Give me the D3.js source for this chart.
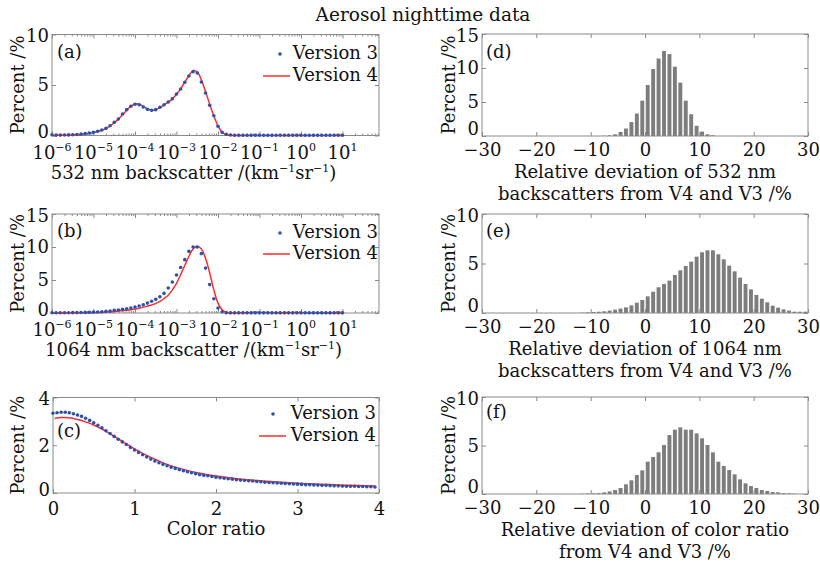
<!DOCTYPE html>
<html><head><meta charset="utf-8">
<script src="https://cdn.jsdelivr.net/npm/d3@7"></script>
<style>
body{margin:0;background:#fff}
svg{display:block}
text{font-family:"DejaVu Serif",serif;fill:#111}
</style>
</head><body><svg id="c" width="820" height="562"></svg>
<script>
// ---------- data ----------
const titleText = "Aerosol nighttime data";
const seriesNames = ["Version 3", "Version 4"];
const logTickExps = [-6,-5,-4,-3,-2,-1,0,1];
const aExp = [-6.0,-5.9,-5.8,-5.7,-5.6,-5.5,-5.4,-5.3,-5.2,-5.1,-5.0,-4.9,-4.8,-4.7,-4.6,-4.5,-4.4,-4.3,-4.2,-4.1,-4.0,-3.9,-3.8,-3.7,-3.6,-3.5,-3.4,-3.3,-3.2,-3.1,-3.0,-2.9,-2.8,-2.7,-2.6,-2.5,-2.4,-2.3,-2.2,-2.1,-2.0,-1.9,-1.8,-1.7,-1.6,-1.5,-1.4,-1.3,-1.2,-1.1,-1.0,-0.9,-0.8,-0.7,-0.6,-0.5,-0.4,-0.3,-0.2,-0.1,0.0,0.1,0.2,0.3,0.4,0.5,0.6,0.7,0.8,0.9,1.0];
const a532V3 = [0.08,0.04,0.04,0.05,0.06,0.08,0.10,0.14,0.19,0.25,0.31,0.41,0.54,0.71,0.97,1.30,1.63,2.13,2.56,2.89,3.09,3.05,2.82,2.59,2.49,2.56,2.79,3.05,3.32,3.64,4.11,4.60,5.27,5.89,6.32,6.19,5.30,4.21,2.99,1.96,0.91,0.31,0.12,0.05,
 0.03,0.03,0.02,0.02,0.02,0.02,0.02,0.02,0.02,0.02,0.02,0.02,0.02,0.02,0.02,0.02,0.02,0.02,0.02,0.02,0.02,0.02,0.02,0.02,0.02,0.02,0.02];
const a532V4 = [0.00,0.01,0.02,0.03,0.04,0.06,0.08,0.11,0.16,0.22,0.29,0.39,0.52,0.70,0.95,1.26,1.62,2.05,2.50,2.88,3.12,3.10,2.88,2.63,2.50,2.55,2.76,3.02,3.30,3.63,4.08,4.62,5.28,5.95,6.42,6.30,5.50,4.35,3.10,1.95,0.95,0.32,0.08,0.02,
 0.01,0.01,0.01,0.01,0.01,0.01,0.01,0.01,0.01,0.01,0.01,0.01,0.01,0.01,0.01,0.01,0.01,0.01,0.01,0.01,0.01,0.01,0.01,0.01,0.01,0.01,0.01];
const b1064V3 = [0.03,0.03,0.03,0.04,0.04,0.05,0.06,0.07,0.09,0.11,0.13,0.16,0.20,0.25,0.30,0.40,0.45,0.55,0.65,0.75,0.90,1.06,1.26,1.50,1.77,2.07,2.47,2.98,3.79,4.70,5.76,6.90,8.08,9.34,10.0,10.0,9.0,6.8,4.3,2.17,0.76,0.20,0.05,
 0.02,0.02,0.02,0.02,0.02,0.02,0.02,0.02,0.02,0.02,0.02,0.02,0.02,0.02,0.02,0.02,0.02,0.02,0.02,0.02,0.02,0.02,0.02,0.02,0.02,0.02,0.02,0.02];
const b1064V4 = [0.00,0.00,0.00,0.01,0.01,0.02,0.02,0.03,0.04,0.05,0.06,0.08,0.10,0.13,0.16,0.20,0.30,0.35,0.40,0.50,0.60,0.72,0.90,1.05,1.20,1.45,1.77,2.20,2.70,3.50,4.50,5.80,7.20,8.60,9.70,10.1,9.7,8.3,6.06,3.5,1.5,0.5,0.1,0.02,
 0.01,0.02,0.03,0.04,0.05,0.06,0.06,0.06,0.06,0.05,0.05,0.04,0.04,0.03,0.03,0.02,0.02,0.02,0.01,0.01,0.01,0.01,0.01,0.01,0.01,0.01,0.01];
const cX = [0.00,0.05,0.10,0.15,0.20,0.25,0.30,0.35,0.40,0.45,0.50,0.55,0.60,0.65,0.70,0.75,0.80,0.85,0.90,0.95,1.00,1.05,1.10,1.15,1.20,1.25,1.30,1.35,1.40,1.45,1.50,1.55,1.60,1.65,1.70,1.75,1.80,1.85,1.90,1.95,2.00,2.05,2.10,2.15,2.20,2.25,2.30,2.35,2.40,2.45,2.50,2.55,2.60,2.65,2.70,2.75,2.80,2.85,2.90,2.95,3.00,3.05,3.10,3.15,3.20,3.25,3.30,3.35,3.40,3.45,3.50,3.55,3.60,3.65,3.70,3.75,3.80,3.85,3.90,3.95];
const cRatioV3 = [3.34,3.36,3.38,3.38,3.36,3.32,3.27,3.21,3.13,3.04,2.94,2.84,2.73,2.61,2.49,2.37,2.25,2.14,2.03,1.91,1.80,1.70,1.60,1.51,1.42,1.34,1.27,1.20,1.14,1.08,1.03,0.98,0.93,0.89,0.85,0.81,0.77,0.74,0.72,0.69,0.66,0.64,0.62,0.60,0.58,0.56,0.54,0.53,0.51,0.50,0.48,0.47,0.45,0.44,0.43,0.42,0.41,0.40,0.39,0.38,0.37,0.36,0.35,0.35,0.34,0.33,0.32,0.32,0.31,0.30,0.30,0.29,0.28,0.28,0.28,0.27,0.27,0.26,0.26,0.25];
const cXV4 = [0.02,0.1,0.2,0.3,0.4,0.5,0.6,0.7,0.8,0.9,1.0,1.2,1.4,1.6,1.8,2.0,2.25,2.5,2.75,3.0,3.25,3.5,3.75,3.95];
const cRatioV4 = [3.12,3.16,3.15,3.08,2.98,2.85,2.68,2.48,2.27,2.06,1.85,1.49,1.20,0.99,0.83,0.71,0.60,0.52,0.46,0.41,0.37,0.34,0.31,0.29];
const cTicks = [0,1,2,3,4];
const histTicks = [-30,-20,-10,0,10,20,30];
const dBins = [-7.5,-6.5,-5.5,-4.5,-3.5,-2.5,-1.5,-0.5,0.5,1.5,2.5,3.5,4.5,5.5,6.5,7.5,8.5,9.5,10.5,11.5,12.5];
const dVals = [0.04,0.1,0.25,0.6,1.1,2.05,3.3,5.2,7.5,9.85,11.4,12.5,12.05,10.2,7.85,5.2,3.2,1.5,0.65,0.25,0.1];
const eBins = [-11.5,-10.5,-9.5,-8.5,-7.5,-6.5,-5.5,-4.5,-3.5,-2.5,-1.5,-0.5,0.5,1.5,2.5,3.5,4.5,5.5,6.5,7.5,8.5,9.5,10.5,11.5,12.5,13.5,14.5,15.5,16.5,17.5,18.5,19.5,20.5,21.5,22.5,23.5,24.5,25.5,26.5,27.5,28.5,29.5];
const eVals = [0.03,0.07,0.1,0.13,0.17,0.24,0.34,0.44,0.57,0.77,1.04,1.31,1.68,2.15,2.6,2.93,3.27,3.84,4.31,4.75,5.19,5.69,6.13,6.33,6.33,5.93,5.42,4.78,4.21,3.57,2.93,2.39,1.82,1.45,1.08,0.74,0.54,0.37,0.24,0.13,0.13,0.13];
const fBins = [-11.5,-10.5,-9.5,-8.5,-7.5,-6.5,-5.5,-4.5,-3.5,-2.5,-1.5,-0.5,0.5,1.5,2.5,3.5,4.5,5.5,6.5,7.5,8.5,9.5,10.5,11.5,12.5,13.5,14.5,15.5,16.5,17.5,18.5,19.5,20.5,21.5,22.5,23.5,24.5,25.5,26.5,27.5];
const fVals = [0.02,0.05,0.07,0.1,0.17,0.27,0.41,0.62,1.0,1.41,1.96,2.44,3.33,3.81,4.3,5.05,6.08,6.63,6.87,6.63,6.63,6.25,5.74,5.05,4.3,3.33,2.89,2.47,2.03,1.51,1.1,0.82,0.62,0.41,0.31,0.21,0.17,0.1,0.07,0.04];

// ---------- drawing ----------
const svg = d3.select("#c");
const FS = 18;
const frameCol = "#8a8a8a";
const dotCol = "#2f52a8";
const lineCol = "#ff2b2b";
const barCol = "#7d7d7d";
const MINUS = "\u2212";

svg.append("text").attr("x", 423).attr("y", 21).attr("text-anchor","middle")
  .attr("font-size", 18.5).text(titleText);

function frame(g, box){
  g.append("rect").attr("x",box.x0).attr("y",box.y0)
   .attr("width",box.x1-box.x0).attr("height",box.y1-box.y0)
   .attr("fill","none").attr("stroke",frameCol).attr("stroke-width",1);
}
function styleAxis(sel){
  sel.select(".domain").remove();
  sel.selectAll(".tick line").attr("stroke",frameCol);
  sel.selectAll(".tick text").attr("font-size",FS).attr("fill","#111")
     .attr("font-family","DejaVu Serif, serif");
}
function yAxes(g, y, box, ticks, zeroDy){
  g.append("g").attr("transform",`translate(${box.x0},0)`)
   .call(d3.axisLeft(y).tickValues(ticks).tickSizeInner(-4).tickSizeOuter(0).tickPadding(3)
     .tickFormat(d=>String(d))).call(styleAxis)
   .selectAll(".tick text").attr("dy", (d,i) => i===0 ? zeroDy : (i===ticks.length-1 ? "0.4em" : "0.32em"));
  g.append("g").attr("transform",`translate(${box.x1},0)`)
   .call(d3.axisRight(y).tickValues(ticks).tickSizeInner(-4).tickSizeOuter(0).tickFormat(""))
   .call(styleAxis);
}
function yLabel(g, x, box){
  g.append("text").attr("transform",`translate(${x},${(box.y0+box.y1)/2}) rotate(-90)`)
   .attr("text-anchor","middle").attr("font-size",FS).text("Percent /%");
}
function panelTag(g, x, y, s){
  g.append("text").attr("x",x).attr("y",y).attr("font-size",FS).text(s);
}
function legend(g, xr, y1, y2, lx0, lx1, dotx){
  g.append("circle").attr("cx",dotx).attr("cy",y1-5).attr("r",1.8).attr("fill",dotCol);
  g.append("text").attr("x",xr).attr("y",y1).attr("text-anchor","end").attr("font-size",FS).text(seriesNames[0]);
  g.append("line").attr("x1",lx0).attr("x2",lx1).attr("y1",y2-5).attr("y2",y2-5)
   .attr("stroke",lineCol).attr("stroke-width",1.5);
  g.append("text").attr("x",xr).attr("y",y2).attr("text-anchor","end").attr("font-size",FS).text(seriesNames[1]);
}
function supText(sel, parts){
  let up = false;
  parts.forEach(([t, sup])=>{
    const ts = sel.append("tspan").text(t);
    if(sup && !up){ ts.attr("dy",-7).attr("font-size",11); up=true; }
    else if(sup && up){ ts.attr("font-size",11); }
    else if(!sup && up){ ts.attr("dy",7); up=false; }
  });
}

// ---- log panels (a), (b) ----
function logPanel(box, yMax, yTicks, v3, v4, tag, xlab, tagY, legY){
  const g = svg.append("g");
  const x = d3.scaleLog().domain([1e-6, Math.pow(10,1.88)]).range([box.x0, box.x1]);
  const y = d3.scaleLinear().domain([0,yMax]).range([box.y1, box.y0]);
  frame(g, box);
  const major = logTickExps.map(e=>Math.pow(10,e));
  const minor = [];
  for(let e=-6;e<=1;e++) for(let m=2;m<=9;m++){ const v=m*Math.pow(10,e); if(v<=x.domain()[1]) minor.push(v); }
  g.append("g").attr("transform",`translate(0,${box.y1})`)
   .call(d3.axisBottom(x).tickValues(major).tickSizeInner(-4).tickSizeOuter(0).tickFormat("")).call(styleAxis);
  g.append("g").attr("transform",`translate(0,${box.y1})`)
   .call(d3.axisBottom(x).tickValues(minor).tickSizeInner(-2).tickSizeOuter(0).tickFormat("")).call(styleAxis);
  g.append("g").attr("transform",`translate(0,${box.y0})`)
   .call(d3.axisTop(x).tickValues(major).tickSizeInner(-4).tickSizeOuter(0).tickFormat("")).call(styleAxis);
  g.append("g").attr("transform",`translate(0,${box.y0})`)
   .call(d3.axisTop(x).tickValues(minor).tickSizeInner(-2).tickSizeOuter(0).tickFormat("")).call(styleAxis);
  yAxes(g, y, box, yTicks, "0.12em");
  logTickExps.forEach(e=>{
    const t = g.append("text").attr("x", x(Math.pow(10,e))).attr("y", box.y1+23)
      .attr("text-anchor","middle").attr("font-size",FS);
    t.append("tspan").text("10");
    t.append("tspan").attr("dy",-8).attr("font-size",11).text(e<0? MINUS+(-e) : String(e));
  });
  const xl = g.append("text").attr("x",(box.x0+box.x1)/2-22).attr("y",box.y1+43)
    .attr("text-anchor","middle").attr("font-size",FS);
  supText(xl, [[xlab+" /(km",false],[MINUS+"1",true],["sr",false],[MINUS+"1",true],[")",false]]);
  const line = d3.line().x((d,i)=>x(Math.pow(10,aExp[i]))).y(d=>y(d)).curve(d3.curveCatmullRom);
  g.append("path").datum(v4).attr("d",line).attr("fill","none").attr("stroke",lineCol).attr("stroke-width",1.5);
  g.selectAll(null).data(v3).enter().append("circle")
   .attr("cx",(d,i)=>x(Math.pow(10,aExp[i]))).attr("cy",d=>y(d)).attr("r",1.8).attr("fill",dotCol);
  panelTag(g, box.x0+5, tagY, tag);
  legend(g, 378, legY[0], legY[1], 263, 290, 280);
  yLabel(g, 24, box);
}
logPanel({x0:52,x1:379,y0:34.5,y1:135.5}, 10, [0,5,10], a532V3, a532V4, "(a)", "532 nm backscatter", 58, [59,81]);
logPanel({x0:52,x1:379,y0:214,y1:313}, 15, [0,5,10,15], b1064V3, b1064V4, "(b)", "1064 nm backscatter", 237, [238,259]);

// ---- color ratio panel (c) ----
(function(){
  const box = {x0:53,x1:379,y0:397.5,y1:493};
  const g = svg.append("g");
  const x = d3.scaleLinear().domain([0,4]).range([box.x0,box.x1]);
  const y = d3.scaleLinear().domain([0,4]).range([box.y1,box.y0]);
  frame(g, box);
  g.append("g").attr("transform",`translate(0,${box.y1})`)
   .call(d3.axisBottom(x).tickValues(cTicks).tickSizeInner(-4).tickSizeOuter(0).tickPadding(9)
     .tickFormat(d3.format("d"))).call(styleAxis);
  g.append("g").attr("transform",`translate(0,${box.y0})`)
   .call(d3.axisTop(x).tickValues(cTicks).tickSizeInner(-4).tickSizeOuter(0).tickFormat("")).call(styleAxis);
  yAxes(g, y, box, [0,2,4], "0.12em");
  g.append("text").attr("x",(box.x0+box.x1)/2).attr("y",box.y1+42).attr("text-anchor","middle")
   .attr("font-size",FS).text("Color ratio");
  const line = d3.line().x((d,i)=>x(cXV4[i])).y(d=>y(d)).curve(d3.curveCatmullRom);
  g.append("path").datum(cRatioV4).attr("d",line).attr("fill","none").attr("stroke",lineCol).attr("stroke-width",1.5);
  g.selectAll(null).data(cRatioV3).enter().append("circle")
   .attr("cx",(d,i)=>x(cX[i])).attr("cy",d=>y(d)).attr("r",1.8).attr("fill",dotCol);
  panelTag(g, 57, 437, "(c)");
  legend(g, 376, 419, 441, 259, 286, 273);
  yLabel(g, 24, box);
})();

// ---- histogram panels (d), (e), (f) ----
function histPanel(box, yMax, yTicks, bins, vals, tag, tagY, lab1, lab2){
  const g = svg.append("g");
  const x = d3.scaleLinear().domain([-30,30]).range([box.x0,box.x1]);
  const y = d3.scaleLinear().domain([0,yMax]).range([box.y1,box.y0]);
  g.selectAll(null).data(vals).enter().append("rect")
   .attr("x",(d,i)=>x(bins[i]-0.36)).attr("width",(d,i)=>x(bins[i]+0.36)-x(bins[i]-0.36))
   .attr("y",d=>y(d)).attr("height",d=>y(0)-y(d)).attr("fill",barCol);
  frame(g, box);
  g.append("g").attr("transform",`translate(0,${box.y1})`)
   .call(d3.axisBottom(x).tickValues(histTicks).tickSizeInner(-4).tickSizeOuter(0).tickPadding(7)
     .tickFormat(d=> d<0 ? MINUS+(-d) : String(d))).call(styleAxis);
  g.append("g").attr("transform",`translate(0,${box.y0})`)
   .call(d3.axisTop(x).tickValues(histTicks).tickSizeInner(-4).tickSizeOuter(0).tickFormat("")).call(styleAxis);
  yAxes(g, y, box, yTicks, "-0.08em");
  const cx = (box.x0+box.x1)/2;
  g.append("text").attr("x",cx).attr("y",box.y1+42).attr("text-anchor","middle").attr("font-size",FS).text(lab1);
  g.append("text").attr("x",cx).attr("y",box.y1+64).attr("text-anchor","middle").attr("font-size",FS).text(lab2);
  panelTag(g, box.x0+4, tagY, tag);
  yLabel(g, 455, box);
}
histPanel({x0:482,x1:808,y0:34,y1:136}, 15, [0,5,10,15], dBins, dVals, "(d)", 58,
  "Relative deviation of 532 nm", "backscatters from V4 and V3 /%");
histPanel({x0:482,x1:808,y0:214,y1:313}, 10, [0,5,10], eBins, eVals, "(e)", 237,
  "Relative deviation of 1064 nm", "backscatters from V4 and V3 /%");
histPanel({x0:482,x1:808,y0:397,y1:494}, 10, [0,5,10], fBins, fVals, "(f)", 418,
  "Relative deviation of color ratio", "from V4 and V3 /%");
</script></body></html>
